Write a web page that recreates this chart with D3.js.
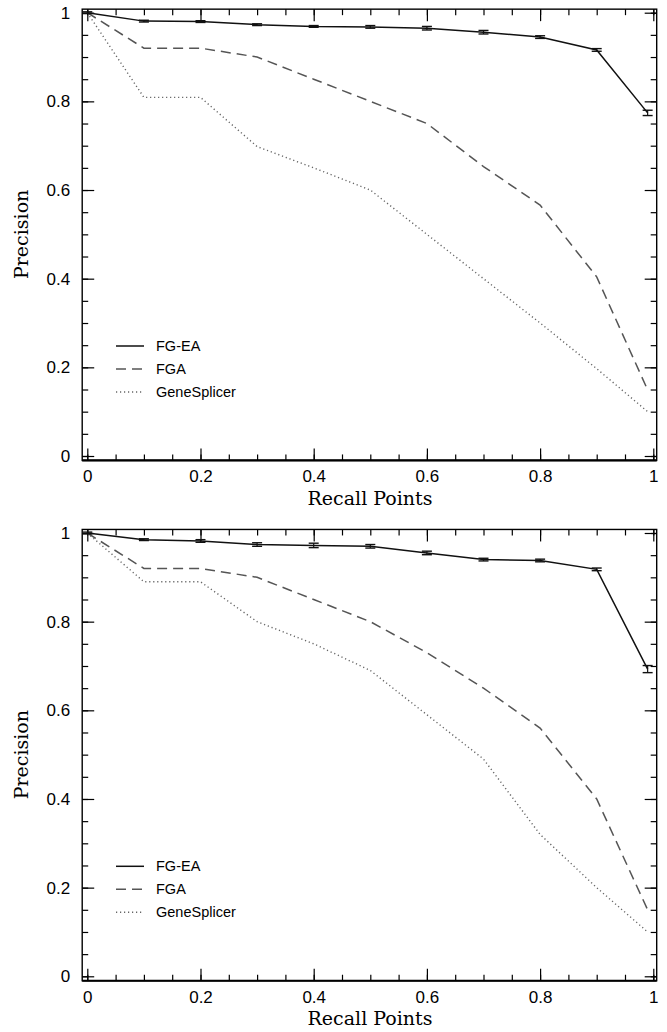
<!DOCTYPE html>
<html>
<head>
<meta charset="utf-8">
<script src="https://cdn.jsdelivr.net/npm/d3@7"></script>
<style>
  body { margin: 0; background: #fff; }
  svg text { font-family: "Liberation Sans", Arial, sans-serif; }
  .title { font-family: "DejaVu Serif", serif; }
</style>
</head>
<body>
<div id="chart"></div>
<script>
// recall points and precision values for both panels
const recall = [0, 0.1, 0.2, 0.3, 0.4, 0.5, 0.6, 0.7, 0.8, 0.9, 0.99];

const seriesNames = ["FG-EA", "FGA", "GeneSplicer"];

const topFGEA = [1.0, 0.981, 0.980, 0.973, 0.969, 0.968, 0.965, 0.956, 0.945, 0.916, 0.774];
const topFGEAErr = [0.002, 0.002, 0.002, 0.002, 0.002, 0.003, 0.004, 0.004, 0.003, 0.003, 0.006];
const topFGA = [1.0, 0.92, 0.92, 0.90, 0.85, 0.80, 0.75, 0.653, 0.566, 0.404, 0.149];
const topGS = [1.0, 0.809, 0.809, 0.698, 0.65, 0.60, 0.50, 0.40, 0.30, 0.197, 0.10];

const botFGEA = [1.0, 0.985, 0.982, 0.974, 0.972, 0.970, 0.955, 0.940, 0.938, 0.918, 0.693];
const botFGEAErr = [0.002, 0.002, 0.003, 0.004, 0.005, 0.004, 0.004, 0.003, 0.003, 0.003, 0.008];
const botFGA = [1.0, 0.92, 0.92, 0.90, 0.85, 0.80, 0.73, 0.65, 0.56, 0.40, 0.15];
const botGS = [1.0, 0.89, 0.89, 0.80, 0.75, 0.69, 0.59, 0.49, 0.32, 0.20, 0.10];

const majorTicks = [0, 0.2, 0.4, 0.6, 0.8, 1];
const tickLabels = ["0", "0.2", "0.4", "0.6", "0.8", "1"];
const minorTicks = d3.range(0, 21).map(i => i * 0.05);

const W = 667, H = 1032;

const svg = d3.select("#chart").append("svg")
    .attr("width", W)
    .attr("height", H);

const x = d3.scaleLinear().domain([0, 1]).range([87.3, 653.3]);
const y = d3.scaleLinear().domain([0, 1]).range([456, 12.7]);

const xL = x(-0.009), xR = x(1.006);
const yB = y(-0.01), yT = y(1.008);

const styles = [
    { stroke: "#111", width: 1.5, dash: null },
    { stroke: "#555", width: 1.5, dash: "10,6" },
    { stroke: "#666", width: 1.4, dash: "1.2,2.8" }
];

function drawPanel(offsetY, fgea, fgeaErr, fga, gs) {
    const g = svg.append("g").attr("transform", `translate(0,${offsetY})`);

    // ticks, mirrored on all four sides, pointing inward
    const sides = [
        { axis: d3.axisBottom(x), t: `translate(0,${yB})` },
        { axis: d3.axisTop(x), t: `translate(0,${yT})` },
        { axis: d3.axisLeft(y), t: `translate(${xL},0)` },
        { axis: d3.axisRight(y), t: `translate(${xR},0)` }
    ];
    sides.forEach(s => {
        const isMajorSide = s.axis;
        g.append("g").attr("transform", s.t)
            .call(s.axis.tickValues(minorTicks).tickSize(-6).tickFormat(""))
            .call(a => a.select(".domain").remove())
            .call(a => a.selectAll("line").attr("stroke", "#000").attr("stroke-width", 1.2));
    });
    [
        { axis: d3.axisBottom(x), t: `translate(0,${yB})` },
        { axis: d3.axisTop(x), t: `translate(0,${yT})` },
        { axis: d3.axisLeft(y), t: `translate(${xL},0)` },
        { axis: d3.axisRight(y), t: `translate(${xR},0)` }
    ].forEach(s => {
        g.append("g").attr("transform", s.t)
            .call(s.axis.tickValues(majorTicks).tickSize(-12).tickFormat(""))
            .call(a => a.select(".domain").remove())
            .call(a => a.selectAll("line").attr("stroke", "#000").attr("stroke-width", 1.2));
    });

    // frame
    g.append("rect")
        .attr("x", xL).attr("y", yT)
        .attr("width", xR - xL).attr("height", yB - yT)
        .attr("fill", "none").attr("stroke", "#000").attr("stroke-width", 1.4);
    g.append("line")
        .attr("x1", xL).attr("x2", xR).attr("y1", yB).attr("y2", yB)
        .attr("stroke", "#000").attr("stroke-width", 2.2);

    // tick labels
    g.append("g").attr("transform", `translate(0,${yB})`)
        .call(d3.axisBottom(x).tickValues(majorTicks).tickSize(0).tickPadding(10)
            .tickFormat((d, i) => tickLabels[i]))
        .call(a => a.select(".domain").remove())
        .call(a => a.selectAll("text").attr("font-size", 17).attr("fill", "#000")
            .attr("font-family", "Liberation Sans, Arial, sans-serif"));
    g.append("g").attr("transform", `translate(${xL - 12},0)`)
        .call(d3.axisLeft(y).tickValues(majorTicks).tickSize(0).tickPadding(0)
            .tickFormat((d, i) => tickLabels[i]))
        .call(a => a.select(".domain").remove())
        .call(a => a.selectAll("text").attr("font-size", 17).attr("fill", "#000")
            .attr("font-family", "Liberation Sans, Arial, sans-serif"));

    // axis titles
    g.append("text").attr("class", "title")
        .attr("x", 370).attr("y", 505)
        .attr("text-anchor", "middle")
        .attr("font-size", 19)
        .text("Recall Points");
    g.append("text").attr("class", "title")
        .attr("transform", `translate(28,${y(0.5)}) rotate(-90)`)
        .attr("text-anchor", "middle")
        .attr("font-size", 19)
        .text("Precision");

    const line = d3.line().x((d, i) => x(recall[i])).y(d => y(d));
    const plot = g.append("g");

    [gs, fga, fgea].forEach((vals, k) => {
        const st = styles[2 - k];
        plot.append("path")
            .datum(vals)
            .attr("fill", "none")
            .attr("stroke", st.stroke)
            .attr("stroke-width", st.width)
            .attr("stroke-dasharray", st.dash)
            .attr("d", line);
    });

    // error bars on FG-EA
    const eb = plot.selectAll(".eb").data(fgea).enter().append("g");
    eb.append("line")
        .attr("x1", (d, i) => x(recall[i])).attr("x2", (d, i) => x(recall[i]))
        .attr("y1", (d, i) => y(d - fgeaErr[i])).attr("y2", (d, i) => y(d + fgeaErr[i]))
        .attr("stroke", "#111").attr("stroke-width", 1.2);
    [-1, 1].forEach(sgn => {
        eb.append("line")
            .attr("x1", (d, i) => x(recall[i]) - 5).attr("x2", (d, i) => x(recall[i]) + 5)
            .attr("y1", (d, i) => y(d + sgn * fgeaErr[i])).attr("y2", (d, i) => y(d + sgn * fgeaErr[i]))
            .attr("stroke", "#111").attr("stroke-width", 1.4);
    });

    // legend
    const legend = g.append("g").attr("transform", "translate(116,346)");
    seriesNames.forEach((name, i) => {
        const st = styles[i];
        legend.append("line")
            .attr("x1", 0).attr("x2", 28)
            .attr("y1", i * 23).attr("y2", i * 23)
            .attr("stroke", st.stroke)
            .attr("stroke-width", st.width)
            .attr("stroke-dasharray", st.dash);
        legend.append("text")
            .attr("x", 40).attr("y", i * 23 + 5)
            .attr("font-size", 14.5)
            .text(name);
    });
}

drawPanel(0, topFGEA, topFGEAErr, topFGA, topGS);
drawPanel(520.3, botFGEA, botFGEAErr, botFGA, botGS);
</script>
</body>
</html>
